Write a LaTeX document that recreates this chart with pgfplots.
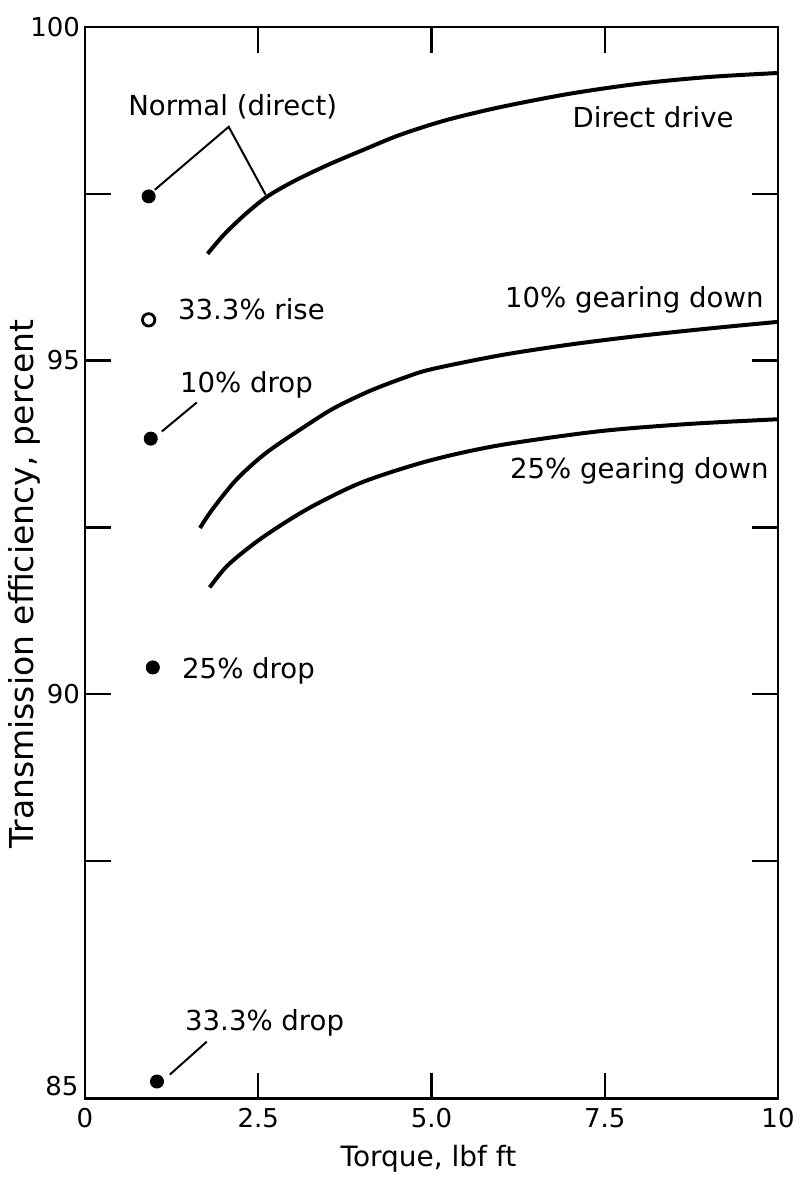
\documentclass[border=0pt]{standalone}
\usepackage{fontspec}
\setmainfont{DejaVu Sans}
\usepackage{pgfplots}
\pgfplotsset{compat=1.18}
\newcommand\lab{\fontsize{13.8}{16}\selectfont}
\newcommand\tck{\fontsize{13}{15}\selectfont}
\begin{document}
\begin{tikzpicture}
\begin{axis}[
  width=347pt, height=536.5pt, scale only axis,
  xmin=0, xmax=10, ymin=85, ymax=100,
  y coord trafo/.code={\pgfmathparse{(#1<87.5) ? (87.5-(87.5-#1)*1.425) : (#1)}},
  y coord inv trafo/.code={\pgfmathparse{(#1<87.5) ? (87.5-(87.5-#1)/1.425) : (#1)}},
  clip=false,
  xtick={0,2.5,5,7.5,10}, xticklabels={0,2.5,5.0,7.5,10},
  ytick={85,87.5,90,92.5,95,97.5,100}, yticklabels={,,90,,95,,100},
  tick align=inside, major tick length=13pt,
  xtick pos=both, ytick pos=both,
  axis line style={line width=1.3pt},
  every tick/.style={line width=1.2pt, black},
  xticklabel style={font=\tck, yshift=-1.5pt},
  yticklabel style={font=\tck, xshift=1pt},
  xlabel={Torque, lbf ft},
  ylabel={Transmission efficiency, percent},
  every axis x label/.style={at={(rel axis cs:0.4957,0)}, anchor=base, yshift=-34pt, font=\fontsize{14}{16}\selectfont},
  every axis y label/.style={at={(rel axis cs:-0.0879,0.48)}, anchor=center, rotate=90, font=\fontsize{16.5}{18}\selectfont},
]
% Direct drive
\addplot[line width=2pt, smooth, tension=0.5] coordinates {
 (1.77,96.60) (2.0,96.88) (2.3,97.18) (2.62,97.45) (3.0,97.68) (3.5,97.93) (4.0,98.15) (4.54,98.38)
 (5.2,98.60) (6.0,98.80) (7.0,99.00) (8.0,99.15) (9.0,99.25) (10,99.31)};
% 10% gearing down
\addplot[line width=2pt, smooth, tension=0.5] coordinates {
 (1.66,92.49) (1.84,92.77) (2.19,93.22) (2.62,93.62) (3.20,94.03) (3.6,94.29) (4.1,94.54) (4.6,94.74)
 (5.0,94.87) (6.0,95.08) (7.0,95.24) (8.0,95.37) (9.0,95.48) (10,95.58)};
% 25% gearing down
\addplot[line width=2pt, smooth, tension=0.5] coordinates {
 (1.80,91.60) (2.05,91.92) (2.42,92.24) (2.81,92.52) (3.29,92.82) (4.01,93.18) (4.97,93.50)
 (5.98,93.73) (7.42,93.94) (8.72,94.05) (10,94.12)};
% filled points: normal, 10% drop, 25% drop, 33.3% drop
\addplot[only marks, mark=*, mark size=3.3pt, black] coordinates {
 (0.92,97.46) (0.95,93.83) (0.98,90.40) (1.04,85.18)};
% open point: 33.3% rise
\addplot[only marks, mark=o, mark size=3.1pt, line width=1.4pt, black] coordinates {(0.92,95.61)};
% leader lines
\draw[line width=1pt] (rel axis cs:0.1009,0.8481) -- (rel axis cs:0.2075,0.9068) -- (rel axis cs:0.2608,0.8434);
\draw[line width=1pt] (rel axis cs:0.1110,0.6225) -- (rel axis cs:0.1614,0.6496);
\draw[line width=1pt] (rel axis cs:0.1225,0.0224) -- (rel axis cs:0.1758,0.0531);
% labels
\node[anchor=base west, inner sep=0pt, font=\lab] at (rel axis cs:0.0620,0.9171) {Normal (direct)};
\node[anchor=base west, inner sep=0pt, font=\lab] at (rel axis cs:0.1340,0.7269) {33.3\% rise};
\node[anchor=base west, inner sep=0pt, font=\lab] at (rel axis cs:0.1369,0.6589) {10\% drop};
\node[anchor=base west, inner sep=0pt, font=\lab] at (rel axis cs:0.1398,0.3924) {25\% drop};
\node[anchor=base west, inner sep=0pt, font=\lab] at (rel axis cs:0.1441,0.0634) {33.3\% drop};
\node[anchor=base east, inner sep=0pt, font=\lab] at (rel axis cs:0.9366,0.9059) {Direct drive};
\node[anchor=base east, inner sep=0pt, font=\lab] at (rel axis cs:0.9798,0.7381) {10\% gearing down};
\node[anchor=base east, inner sep=0pt, font=\lab] at (rel axis cs:0.9870,0.5787) {25\% gearing down};
\node[anchor=base east, inner sep=0pt, font=\tck, xshift=-3pt, yshift=1.5pt] at (rel axis cs:0,0) {85};
\end{axis}
\path (current axis.south west) ++(-42.5pt,-39.5pt) rectangle ([shift={(13pt,13.5pt)}]current axis.north east);
\end{tikzpicture}
\end{document}
